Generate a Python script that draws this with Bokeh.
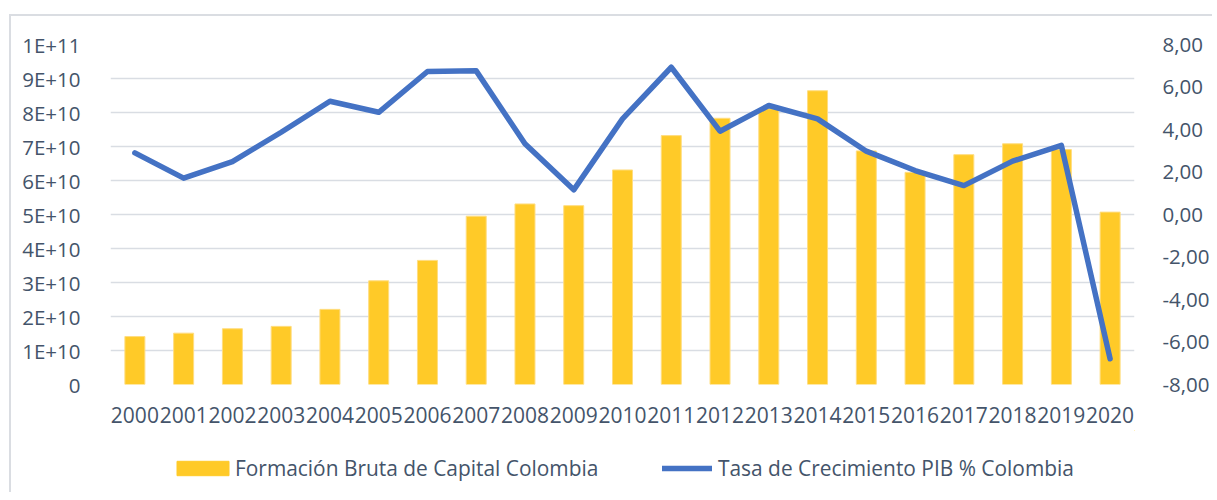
from bokeh.plotting import figure
from bokeh.layouts import column
from bokeh.models import (ColumnDataSource, FactorRange, Range1d, LinearAxis, FixedTicker,
                          CustomJSTickFormatter, Legend, LegendItem)
from bokeh.embed import file_html
from bokeh.resources import INLINE

years = [str(y) for y in range(2000, 2021)]
fbk = [1.41e10, 1.51e10, 1.64e10, 1.71e10, 2.21e10, 3.05e10, 3.65e10, 4.95e10, 5.31e10, 5.26e10,
       6.31e10, 7.32e10, 7.83e10, 8.11e10, 8.64e10, 6.87e10, 6.24e10, 6.76e10, 7.08e10, 6.91e10, 5.07e10]
pib = [2.90, 1.71, 2.49, 3.87, 5.33, 4.81, 6.73, 6.76, 3.33, 1.16,
       4.50, 6.93, 3.92, 5.13, 4.50, 2.98, 2.07, 1.36, 2.51, 3.25, -6.79]
left_ticks = [i * 1e10 for i in range(0, 11)]
right_ticks = [-8, -6, -4, -2, 0, 2, 4, 6, 8]
label_bar = "Formación Bruta de Capital Colombia"
label_line = "Tasa de Crecimiento PIB % Colombia"

FONT = "Open Sans"
FS = "20.5px"
TXT = "#44546A"
BAR = "#FFCA28"
LINE = "#4472C4"
BORDER = "#DADDE2"
W = 1212

src = ColumnDataSource(dict(year=years, fbk=fbk, pib=pib))

p = figure(x_range=FactorRange(factors=years), y_range=Range1d(0, 1e11),
           width=W, height=430,
           min_border_left=110, min_border_top=44, min_border_bottom=46, min_border_right=69,
           output_backend="svg", toolbar_location=None)
p.extra_y_ranges = {"pib": Range1d(-8, 8)}
p.border_fill_alpha = 0
p.styles = {"background-image": f"linear-gradient({BORDER}, {BORDER}), linear-gradient({BORDER}, {BORDER})",
            "background-size": "2px 100%, 100% 2px",
            "background-position": "9px 14px, 9px 14px",
            "background-repeat": "no-repeat"}

bars = p.vbar(x="year", top="fbk", width=0.41, source=src, fill_color=BAR,
              line_color="#FFDD80", line_width=1)
ln = p.line(x="year", y="pib", source=src, y_range_name="pib", line_color=LINE,
            line_width=5.5, line_join="round", line_cap="round")

p.outline_line_color = None
p.xgrid.grid_line_color = None
p.ygrid.grid_line_color = "#D9DDE3"
p.ygrid.grid_line_width = 1.5
p.yaxis.ticker = FixedTicker(ticks=left_ticks)
p.yaxis.formatter = CustomJSTickFormatter(code="""
if (tick == 0) return "0";
const e = Math.floor(Math.log10(tick) + 1e-9);
const m = Math.round(tick / Math.pow(10, e));
return m + "E+" + e;
""")

ra = LinearAxis(y_range_name="pib", ticker=FixedTicker(ticks=right_ticks),
                formatter=CustomJSTickFormatter(code="return tick.toFixed(2).replace('.', ',');"))
p.add_layout(ra, "right")

for ax in [p.xaxis[0], p.yaxis[0], ra]:
    ax.axis_line_color = None
    ax.major_tick_line_color = None
    ax.minor_tick_line_color = None
    ax.major_label_text_font = FONT
    ax.major_label_text_font_size = FS
    ax.major_label_text_color = TXT
p.xaxis[0].major_label_text_font_size = "21px"
p.yaxis[0].major_label_standoff = 24
ra.major_label_standoff = 22
p.xaxis[0].major_label_standoff = 16

# legend strip below the chart (its frame is aligned with the chart's frame)
lf = figure(width=W, height=62, x_range=Range1d(0, 1), y_range=Range1d(0, 1),
            min_border=0, output_backend="svg", toolbar_location=None)
lf.axis.visible = False
lf.grid.visible = False
lf.outline_line_color = None
lf.border_fill_alpha = 0
lf.background_fill_alpha = 0
lf.styles = {"background-image": f"linear-gradient({BORDER}, {BORDER})",
             "background-size": "2px 100%",
             "background-position": "9px 0px",
             "background-repeat": "no-repeat"}
dbar = lf.vbar(x=[5], top=[5], bottom=[4], width=0.1, fill_color=BAR, line_color=BAR)
dln = lf.line(x=[5, 6], y=[5, 5], line_color=LINE, line_width=5.5, line_cap="round")

common = dict(orientation="horizontal", padding=0, margin=0,
              label_text_font=FONT, label_text_font_size="20.9px", label_text_color=TXT,
              border_line_color=None, background_fill_alpha=0)
leg1 = Legend(items=[LegendItem(label=label_bar, renderers=[dbar])],
              location=(60, 10), glyph_width=65, glyph_height=18, label_standoff=0, **common)
leg2 = Legend(items=[LegendItem(label=label_line, renderers=[dln])],
              location=(552, 10), glyph_width=50, glyph_height=14, label_standoff=6, **common)
lf.add_layout(leg1, "center")
lf.add_layout(leg2, "center")

layout = column(p, lf, spacing=0)
open("out.html", "w").write(file_html(layout, INLINE))
